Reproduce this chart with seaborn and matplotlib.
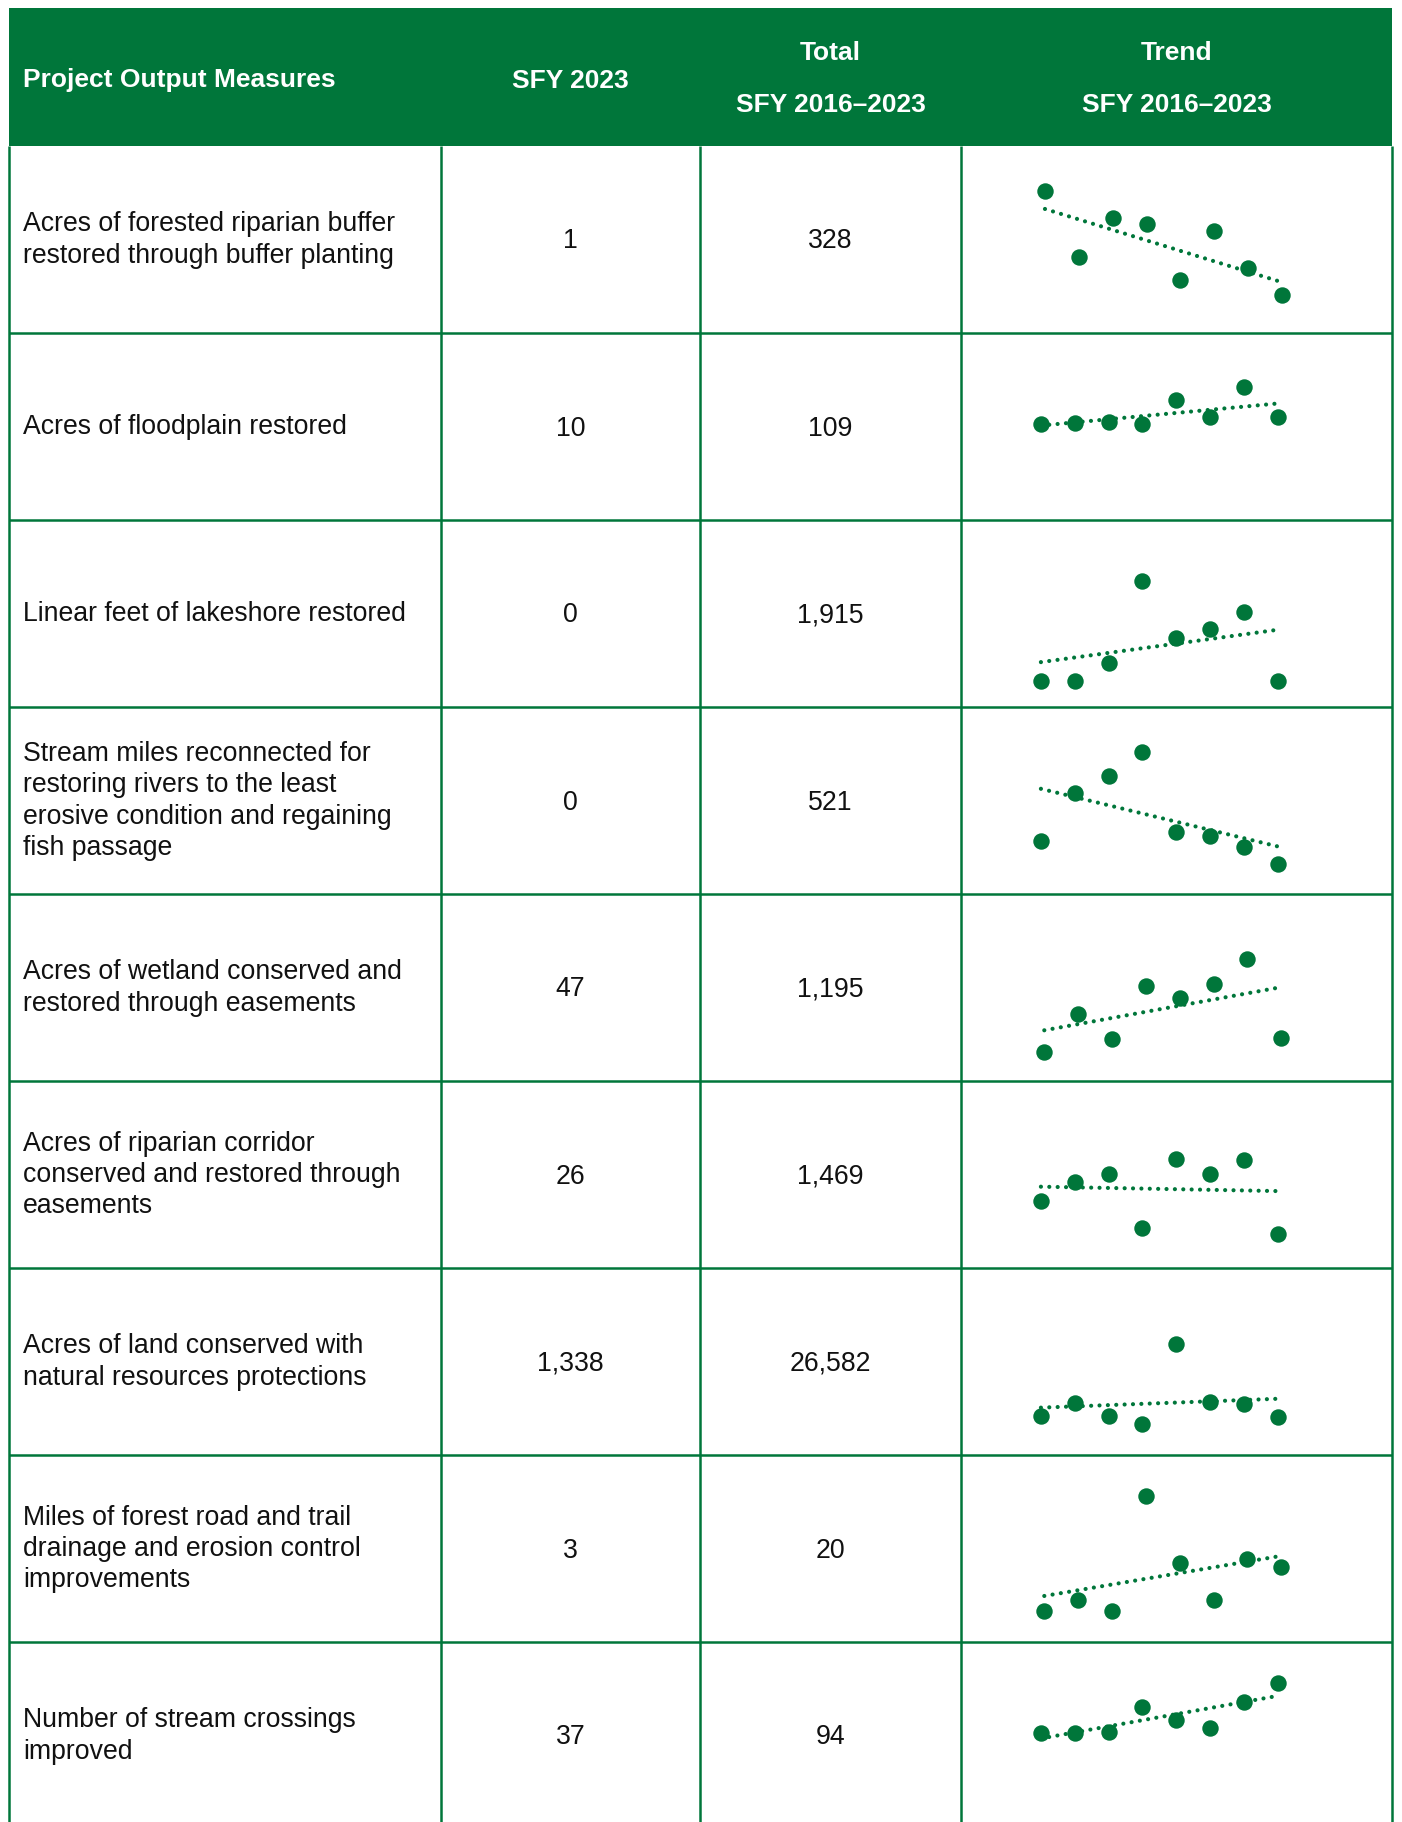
import numpy as np
import pandas as pd
import matplotlib
matplotlib.use("Agg")
import matplotlib.pyplot as plt
import matplotlib.font_manager as fm
from matplotlib.patches import Rectangle
import seaborn as sns

sns.set_style("white")
plt.rcParams['font.family'] = ['Liberation Sans', 'DejaVu Sans']

# ---- data ----
measures = [
    "Acres of forested riparian buffer\nrestored through buffer planting",
    "Acres of floodplain restored",
    "Linear feet of lakeshore restored",
    "Stream miles reconnected for\nrestoring rivers to the least\nerosive condition and regaining\nfish passage",
    "Acres of wetland conserved and\nrestored through easements",
    "Acres of riparian corridor\nconserved and restored through\neasements",
    "Acres of land conserved with\nnatural resources protections",
    "Miles of forest road and trail\ndrainage and erosion control\nimprovements",
    "Number of stream crossings\nimproved",
]
sfy_2023 = ["1", "10", "0", "0", "47", "26", "1,338", "3", "37"]
total_2016_2023 = ["328", "109", "1,915", "521", "1,195", "1,469", "26,582", "20", "94"]
years = [2016, 2017, 2018, 2019, 2020, 2021, 2022, 2023]

# yearly values behind each sparkline
buffer_acres = [85, 32, 63, 58, 13, 53, 23, 1]
floodplain_acres = [1, 2, 4, 1, 32, 10, 49, 10]
lakeshore_feet = [0, 0, 121, 681, 291, 353, 469, 0]
stream_miles = [32, 100, 124, 157, 45, 39, 24, 0]
wetland_acres = [1, 131, 46, 228, 187, 234, 320, 47]
corridor_acres = [141, 208, 236, 49, 289, 235, 285, 26]
land_acres = [1560, 3310, 1560, 440, 11644, 3530, 3200, 1338]
road_miles = [0.6, 1.2, 0.6, 6.8, 3.2, 1.2, 3.4, 3.0]
crossings = [0, 0, 1, 19, 10, 4, 23, 37]

trend_series = [buffer_acres, floodplain_acres, lakeshore_feet, stream_miles,
                wetland_acres, corridor_acres, land_acres, road_miles, crossings]

# vertical range of each sparkline cell (each mini chart has its own scale)
trend_ylims = [(-29.4, 121.2), (-124.6, 120.4), (-177, 1098), (-42, 220.3),
               (-100.6, 545.7), (-90.9, 558), (-3971, 22359), (-1.07, 9.03),
               (-70, 66.7)]
# small horizontal offset of each mini chart inside its cell (years)
trend_xshift = [0.12, 0.0, 0.0, 0.0, 0.1, 0.0, 0.0, 0.1, 0.0]

# ---- layout ----
W, H = 1402, 1822
GREEN = "#00763A"
LEFT, RIGHT = 9, 1392
COL_X = [LEFT, 441, 700, 961, RIGHT]
HEAD_TOP, HEAD_BOTTOM = 8, 146
ROW_H = 187

names = {f.name for f in fm.fontManager.ttflist}
if "Liberation Sans Narrow" in names:
    head_family, head_size = "Liberation Sans Narrow", 23
else:
    head_family, head_size = "Liberation Sans", 19

fig = plt.figure(figsize=(W / 100, H / 100), dpi=100)
ax = fig.add_axes([0, 0, 1, 1])
ax.set_xlim(0, W)
ax.set_ylim(H, 0)
ax.axis("off")

# header
ax.add_patch(Rectangle((LEFT, HEAD_TOP), RIGHT - LEFT, HEAD_BOTTOM - HEAD_TOP,
                       facecolor=GREEN, edgecolor="none"))
hkw = dict(color="white", fontsize=head_size, fontweight="bold",
           family=[head_family, "DejaVu Sans"], va="center")
ax.text(23, 80.5, "Project Output Measures", ha="left", **hkw)
ax.text((COL_X[1] + COL_X[2]) / 2, 80.5, "SFY 2023", ha="center", **hkw)
ax.text((COL_X[2] + COL_X[3]) / 2, 53.5, "Total", ha="center", **hkw)
ax.text((COL_X[2] + COL_X[3]) / 2, 105.5, "SFY 2016\u20132023", ha="center", **hkw)
ax.text((COL_X[3] + COL_X[4]) / 2, 53.5, "Trend", ha="center", **hkw)
ax.text((COL_X[3] + COL_X[4]) / 2, 105.5, "SFY 2016\u20132023", ha="center", **hkw)

# grid
n = len(measures)
row_edges = [HEAD_BOTTOM + i * ROW_H for i in range(n + 1)]
ax.hlines(row_edges[1:], LEFT, RIGHT, color=GREEN, lw=1.8)
ax.vlines(COL_X, HEAD_BOTTOM, H + 10, color=GREEN, lw=1.8)

# body text
for i in range(n):
    yc = row_edges[i] + ROW_H / 2
    ax.text(23, yc + 0.5, measures[i], ha="left", va="center", fontsize=19.2,
            color="#111111", linespacing=1.26)
    ax.text((COL_X[1] + COL_X[2]) / 2, yc + 2, sfy_2023[i], ha="center",
            va="center", fontsize=19.2, color="#111111")
    ax.text((COL_X[2] + COL_X[3]) / 2, yc + 2, total_2016_2023[i], ha="center",
            va="center", fontsize=19.2, color="#111111")

# sparklines with linear trend
x0_trend, x1_trend = COL_X[3], COL_X[4]
for i, (vals, lims) in enumerate(zip(trend_series, trend_ylims)):
    top = row_edges[i]
    ax_t = fig.add_axes([x0_trend / W, 1 - (top + ROW_H) / H,
                         (x1_trend - x0_trend) / W, ROW_H / H])
    df = pd.DataFrame({"year": years, "value": vals})
    sns.regplot(data=df, x="year", y="value", ax=ax_t, ci=None,
                scatter_kws=dict(s=140, color=GREEN, alpha=1, linewidths=0),
                line_kws=dict(color=GREEN, lw=3.0, linestyle=(0, (0.01, 2.0)),
                              dash_capstyle="round"))
    ax_t.set_xlim(2013.64 - trend_xshift[i], 2026.37 - trend_xshift[i])
    ax_t.set_ylim(*lims)
    ax_t.axis("off")

fig.savefig("out.png", dpi=100)
